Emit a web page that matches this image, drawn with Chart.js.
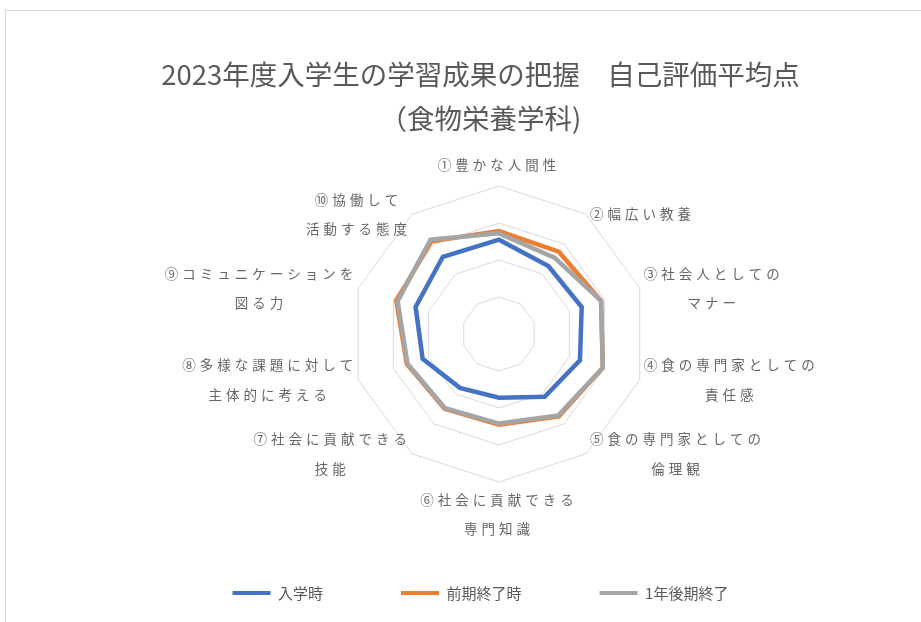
<!DOCTYPE html>
<html>
<head>
<meta charset="utf-8">
<script src="https://cdn.jsdelivr.net/npm/chart.js@4/dist/chart.umd.min.js"></script>
<style>
  body { margin: 0; background: #fff; }
  #frame { position: absolute; left: 5px; top: 10px; width: 940px; height: 640px; border: 1px solid #d9d9d9; }
  #radarChart { position: absolute; left: 0; top: 0; }
</style>
</head>
<body>
<div id="frame"></div>
<canvas id="radarChart" width="921" height="622"></canvas>
<script>
// axis labels (multi-line labels as arrays)
const categories = [
  '①豊かな人間性',
  '②幅広い教養',
  ['③社会人としての', 'マナー'],
  ['④食の専門家としての', '責任感'],
  ['⑤食の専門家としての', '倫理観'],
  ['⑥社会に貢献できる', '専門知識'],
  ['⑦社会に貢献できる', '技能'],
  ['⑧多様な課題に対して', '主体的に考える'],
  ['⑨コミュニケーションを', '図る力'],
  ['⑩協働して', '活動する態度']
];

const seriesNames = ['入学時', '前期終了時', '1年後期終了'];

// average self-evaluation points
const entryValues   = [2.55, 2.27, 2.35, 2.30, 2.10, 1.72, 1.80, 2.17, 2.37, 2.58];
const firstTermEnd  = [2.78, 2.75, 2.90, 2.95, 2.75, 2.45, 2.50, 2.62, 2.92, 3.10];
const secondTermEnd = [2.72, 2.55, 2.90, 2.95, 2.72, 2.42, 2.48, 2.60, 2.88, 3.15];

const scaleMin = 0;
const scaleMax = 4;
const scaleStep = 1;

const colors = ['#4472C4', '#ED7D31', '#A5A5A5'];

// Excel style axis labels: centred lines, placed next to the outer ring
const axisLabels = {
  id: 'axisLabels',
  afterDraw(chart) {
    const scale = chart.scales.r;
    const ctx = chart.ctx;
    const lh = 29.5;
    ctx.save();
    ctx.font = '13.5px "Noto Sans CJK JP"';
    ctx.letterSpacing = '4px';
    ctx.fillStyle = '#666666';
    ctx.textAlign = 'center';
    ctx.textBaseline = 'middle';
    chart.data.labels.forEach((lbl, i) => {
      const lines = Array.isArray(lbl) ? lbl : [lbl];
      const pos = scale.getPointPosition(i, scale.drawingArea);
      const h = lines.length * lh;
      const c = Math.cos(pos.angle), s = Math.sin(pos.angle);
      let cx, cy;
      if (Math.abs(c) < 0.2) {
        cx = pos.x;
        cy = s < 0 ? pos.y - 6 - h / 2 : pos.y + 3 + h / 2;
      } else {
        const w = Math.max(...lines.map(t => ctx.measureText(t).width));
        cx = pos.x + (c > 0 ? 4 + w / 2 : -1 - w / 2);
        cy = pos.y;
      }
      lines.forEach((t, k) => ctx.fillText(t, cx, cy - h / 2 + lh * (k + 0.5)));
    });
    ctx.restore();
  }
};

const ctx = document.getElementById('radarChart').getContext('2d');

const radarChart = new Chart(ctx, {
  type: 'radar',
  data: {
    labels: categories,
    datasets: [
      { label: seriesNames[0], data: entryValues, borderColor: colors[0], backgroundColor: colors[0], order: 0 },
      { label: seriesNames[1], data: firstTermEnd, borderColor: colors[1], backgroundColor: colors[1], order: 1 },
      { label: seriesNames[2], data: secondTermEnd, borderColor: colors[2], backgroundColor: colors[2], order: -1 }
    ]
  },
  options: {
    responsive: false,
    animation: false,
    layout: { padding: { left: 40, right: 0, top: 0, bottom: 11.5 } },
    elements: {
      line: { borderWidth: 4.5, fill: false, tension: 0 },
      point: { radius: 0, hoverRadius: 0 }
    },
    scales: {
      r: {
        min: scaleMin,
        max: scaleMax,
        ticks: { stepSize: scaleStep, display: false },
        grid: { color: '#d9d9d9', lineWidth: 1 },
        angleLines: { display: false },
        pointLabels: { display: false },
        afterFit(scale) {
          // plot area sits a little right of the title, as in Excel
          scale.drawingArea = 148;
          scale.xCenter += 19;
        }
      }
    },
    plugins: {
      title: {
        display: true,
        text: ['2023年度入学生の学習成果の把握　自己評価平均点', '（食物栄養学科)'],
        color: '#595959',
        font: { family: '"Noto Sans CJK JP"', size: 27.5, weight: 'normal', lineHeight: 1.6 },
        padding: { top: 53, bottom: 20 }
      },
      legend: {
        position: 'bottom',
        labels: {
          color: '#595959',
          font: { family: '"Noto Sans CJK JP"', size: 15 },
          boxWidth: 38,
          boxHeight: 4,
          padding: 78,
          sort: (a, b) => a.datasetIndex - b.datasetIndex,
          generateLabels(chart) {
            return Chart.defaults.plugins.legend.labels.generateLabels(chart).map(item => {
              item.lineWidth = 0;
              item.fillStyle = item.strokeStyle;
              return item;
            });
          }
        }
      },
      tooltip: { enabled: false }
    }
  },
  plugins: [axisLabels]
});
</script>
</body>
</html>
